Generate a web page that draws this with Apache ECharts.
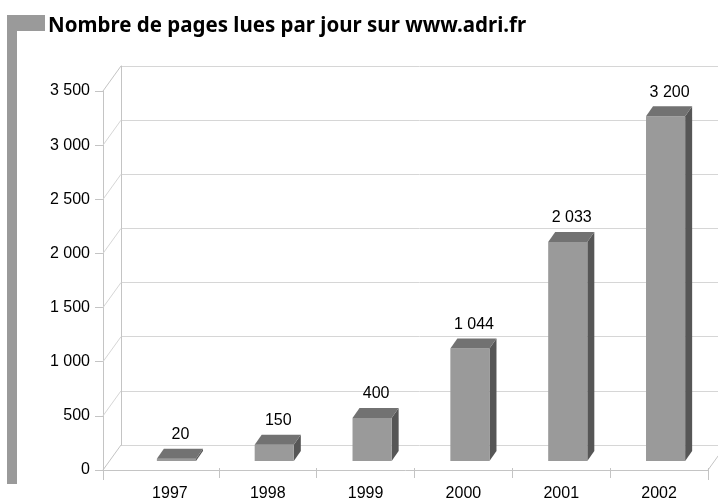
<!DOCTYPE html>
<html>
<head>
<meta charset="utf-8">
<script src="https://cdn.jsdelivr.net/npm/echarts@6/dist/echarts.min.js"></script>
<style>
html,body{margin:0;padding:0;background:#fff;}
#chart{width:718px;height:502px;}
</style>
</head>
<body>
<div id="chart"></div>
<script>
const titleText = 'Nombre de pages lues par jour sur www.adri.fr';
const years = ['1997', '1998', '1999', '2000', '2001', '2002'];
const pages = [20, 150, 400, 1044, 2033, 3200];
const yTicks = [0, 500, 1000, 1500, 2000, 2500, 3000, 3500];

const FONT = "'Liberation Sans', Arial, sans-serif";
const TITLE_FONT = "'Noto Sans', 'Open Sans', sans-serif";
const fmt = v => String(v).replace(/\B(?=(\d{3})+(?!\d))/g, ' ');
const DX = 18, DY = -25;          // depth of the 3D box
const BAR_DX = 6.5, BAR_DY = -7;  // bar front plane offset
const TOP_DX = 7, TOP_DY = -10;   // bar depth
const frameColor = '#c4c4c4';
const gridColor = '#d6d6d6';

const chart = echarts.init(document.getElementById('chart'), null, {renderer: 'canvas'});

const option = {
  animation: false,
  backgroundColor: '#ffffff',
  title: {
    text: titleText,
    left: 43, top: 11,
    textStyle: {fontFamily: TITLE_FONT, fontSize: 20.5, fontWeight: 'bold', color: '#000'}
  },
  graphic: [
    {type: 'rect', shape: {x: 7, y: 15, width: 38, height: 16}, style: {fill: '#9a9a9a'}, z: 10},
    {type: 'rect', shape: {x: 7, y: 15, width: 10, height: 469}, style: {fill: '#9a9a9a'}, z: 10},
    {type: 'line', shape: {x1: 708, y1: 470, x2: 708 + DX, y2: 470 + DY}, style: {stroke: frameColor, lineWidth: 1}, z: 1}
  ],
  grid: [
    {left: 103, right: 10, top: 91, bottom: 32},   // front plane
    {left: 121, right: -8, top: 66, bottom: 57},   // back wall
    {left: 121, right: 10, top: 91, bottom: 32}    // category axis / bars
  ],
  xAxis: [
    {gridIndex: 0, type: 'value', min: 0, max: 1, interval: 1,
     axisLine: {show: true, lineStyle: {color: frameColor}},
     axisTick: {show: true, length: 10, lineStyle: {color: frameColor}},
     axisLabel: {show: false}, splitLine: {show: false}},
    {gridIndex: 1, type: 'value', min: 0, max: 1, show: false},
    {gridIndex: 2, type: 'category', data: years,
     axisLine: {show: false},
     axisTick: {show: true, length: 10, lineStyle: {color: frameColor},
                interval: function (i) { return i !== 0; }},
     axisLabel: {margin: 18, fontFamily: FONT, fontSize: 16, color: '#000'},
     splitLine: {show: false}}
  ],
  yAxis: [
    {gridIndex: 0, type: 'value', min: 0, max: 3500, interval: 500,
     axisLine: {show: true, lineStyle: {color: frameColor}},
     axisTick: {show: true, length: 8, lineStyle: {color: frameColor}},
     axisLabel: {margin: 13, fontFamily: FONT, fontSize: 16, color: '#000', formatter: fmt},
     splitLine: {show: false}},
    {gridIndex: 1, type: 'value', min: 0, max: 3500, interval: 500,
     axisLine: {show: true, lineStyle: {color: frameColor}},
     axisTick: {show: false}, axisLabel: {show: false},
     splitLine: {show: true, lineStyle: {color: gridColor}}},
    {gridIndex: 2, type: 'value', min: 0, max: 3500, interval: 500, show: false}
  ],
  series: [
    {
      type: 'custom', xAxisIndex: 0, yAxisIndex: 0, clip: false, z: 1, silent: true,
      data: yTicks.map(v => [0, v]),
      encode: {x: 0, y: 1},
      renderItem: function (params, api) {
        const p = api.coord([0, api.value(1)]);
        return {type: 'line', shape: {x1: p[0], y1: p[1], x2: p[0] + DX, y2: p[1] + DY},
                style: {stroke: api.value(1) === 0 || api.value(1) === 3500 ? frameColor : gridColor, lineWidth: 1}};
      }
    },
    {
      type: 'custom', xAxisIndex: 2, yAxisIndex: 2, clip: false, z: 5, silent: true,
      data: pages.map((v, i) => [i, v]),
      encode: {x: 0, y: 1},
      renderItem: function (params, api) {
        const i = api.value(0), v = api.value(1);
        const top = api.coord([i, v]);
        const base = api.coord([i, 0]);
        const w = api.size([1, 0])[0] * 0.4;
        const cx = top[0] + BAR_DX;
        const xl = cx - w / 2, xr = cx + w / 2;
        const yt = top[1] + BAR_DY, yb = base[1] + BAR_DY;
        return {
          type: 'group',
          children: [
            {type: 'polygon', shape: {points: [[xr, yt], [xr + TOP_DX, yt + TOP_DY], [xr + TOP_DX, yb + TOP_DY], [xr, yb]]},
             style: {fill: '#565656'}},
            {type: 'rect', shape: {x: xl, y: yt, width: w, height: yb - yt}, style: {fill: '#9a9a9a'}},
            {type: 'polygon', shape: {points: [[xl, yt], [xr, yt], [xr + TOP_DX, yt + TOP_DY], [xl + TOP_DX, yt + TOP_DY]]},
             style: {fill: '#727272'}},
            {type: 'text', style: {x: cx + 4, y: yt - 24, text: fmt(v), fill: '#000',
              font: '16px ' + FONT, textAlign: 'center', textVerticalAlign: 'middle'}}
          ]
        };
      }
    }
  ]
};
chart.setOption(option);
</script>
</body>
</html>
